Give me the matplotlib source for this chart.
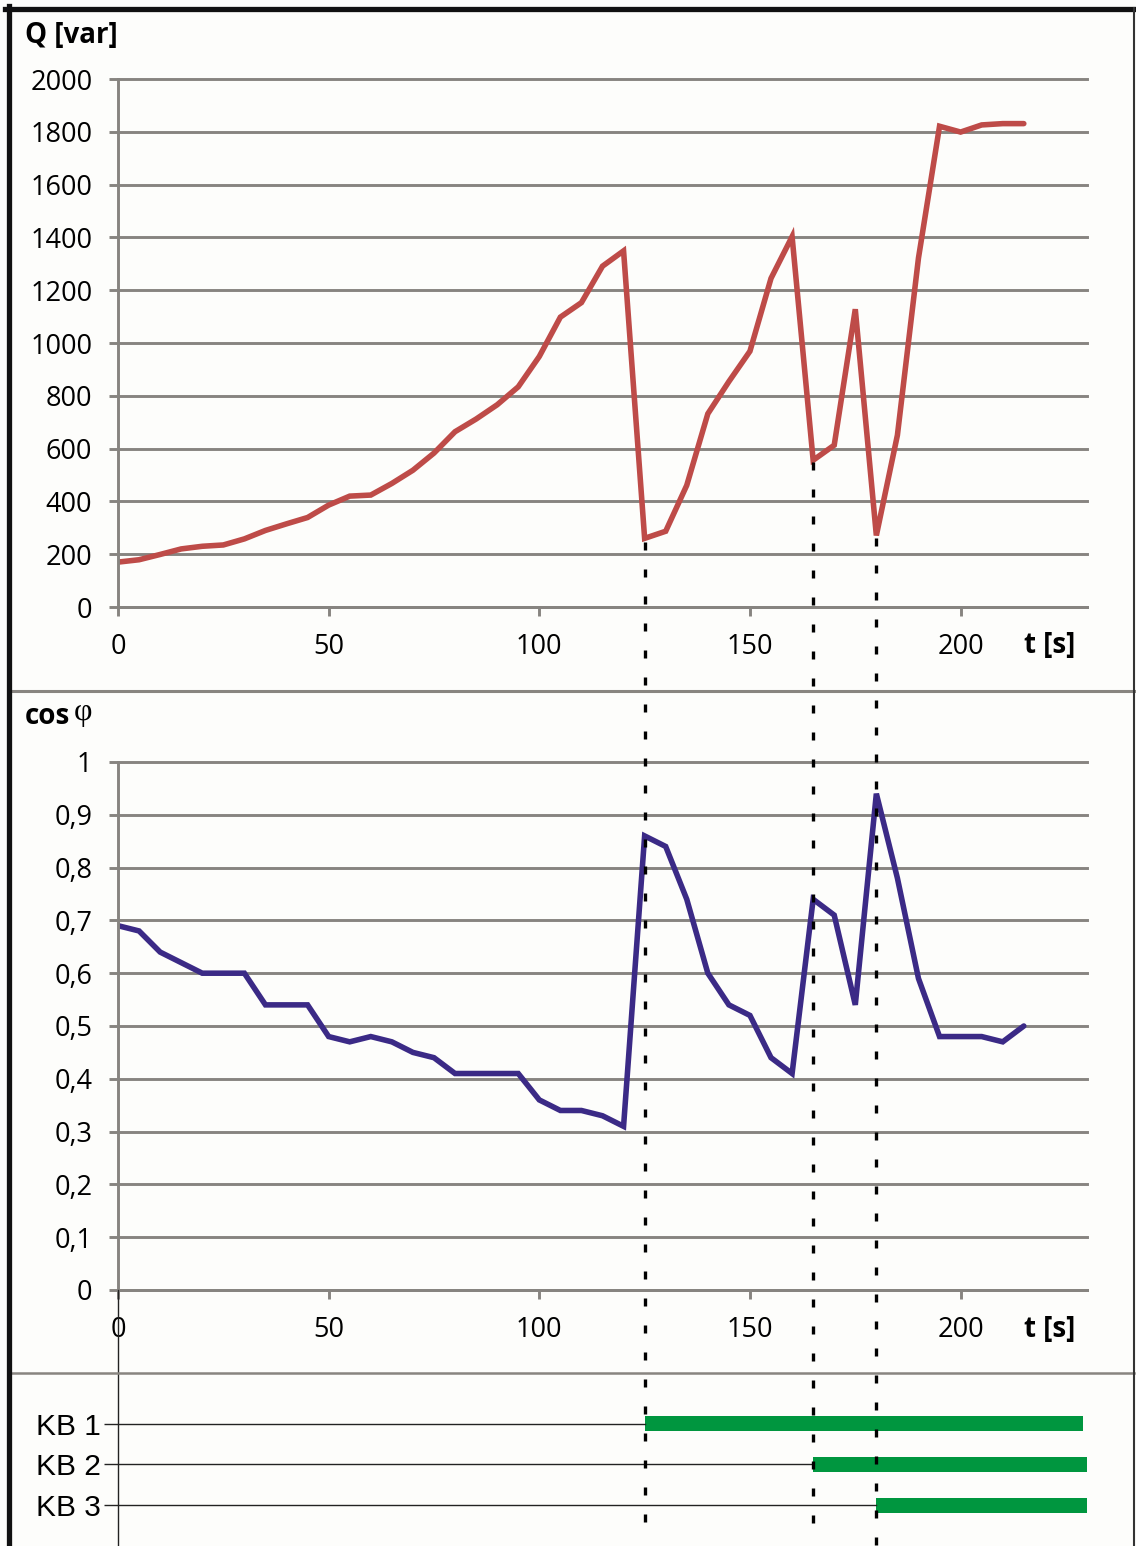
import matplotlib.pyplot as plt
from matplotlib.lines import Line2D
from matplotlib.transforms import blended_transform_factory

# time axis, 5 s steps
t = [0, 5, 10, 15, 20, 25, 30, 35, 40, 45, 50, 55, 60, 65, 70, 75, 80, 85, 90, 95,
     100, 105, 110, 115, 120, 125, 130, 135, 140, 145, 150, 155, 160, 165, 170, 175,
     180, 185, 190, 195, 200, 205, 210, 215]

q = [170, 179, 199, 220, 230, 235, 258, 290, 315, 339, 386, 420, 424, 468, 518, 583,
     664, 712, 766, 834, 949, 1098, 1153, 1291, 1349, 260, 287, 461, 732, 854, 969,
     1245, 1403, 556, 613, 1128, 271, 651, 1322, 1821, 1799, 1826, 1831, 1831]

cosphi = [0.69, 0.68, 0.64, 0.62, 0.60, 0.60, 0.60, 0.54, 0.54, 0.54, 0.48, 0.47,
          0.48, 0.47, 0.45, 0.44, 0.41, 0.41, 0.41, 0.41, 0.36, 0.34, 0.34, 0.33,
          0.31, 0.86, 0.84, 0.74, 0.60, 0.54, 0.52, 0.44, 0.41, 0.74, 0.71, 0.54,
          0.94, 0.78, 0.59, 0.48, 0.48, 0.48, 0.47, 0.50]

x_ticks = [0, 50, 100, 150, 200]
q_ticks = [0, 200, 400, 600, 800, 1000, 1200, 1400, 1600, 1800, 2000]
c_ticks = [0, 0.1, 0.2, 0.3, 0.4, 0.5, 0.6, 0.7, 0.8, 0.9, 1]
c_labels = ['0', '0,1', '0,2', '0,3', '0,4', '0,5', '0,6', '0,7', '0,8', '0,9', '1']

kb_names = ['KB 1', 'KB 2', 'KB 3']
kb_on = [125, 165, 180]
kb_off = [229, 230.5, 230.5]

W, H = 1136, 1546
fig = plt.figure(figsize=(W / 100, H / 100), dpi=100)
fig.patch.set_facecolor('#fdfdfb')

GRID = '#878480'
TICKFAM = ['Open Sans', 'DejaVu Sans']


def px_rect(l, top, r, b):
    return [l / W, 1 - b / H, (r - l) / W, (b - top) / H]


def chart(rect, ticks, labels=None):
    ax = fig.add_axes(rect)
    ax.set_facecolor('none')
    ax.set_xlim(0, 230)
    ax.set_xticks(x_ticks)
    ax.set_yticks(ticks)
    if labels is not None:
        ax.set_yticklabels(labels)
    ax.set_ylim(ticks[0], ticks[-1])
    for s in ['top', 'right']:
        ax.spines[s].set_visible(False)
    for s in ['left', 'bottom']:
        ax.spines[s].set_color(GRID)
        ax.spines[s].set_linewidth(2.1)
    ax.yaxis.grid(True, color=GRID, lw=2.1)
    for gl in ax.get_ygridlines():
        gl.set_clip_on(False)
    ax.tick_params(axis='y', length=6.5, width=2.1, color=GRID, pad=12)
    ax.tick_params(axis='x', length=6.5, width=2.1, color=GRID, pad=12)
    for lab in ax.get_xticklabels() + ax.get_yticklabels():
        lab.set_fontfamily(TICKFAM)
        lab.set_fontsize(19.5)
    ax.set_axisbelow(True)
    return ax


# Q chart
ax1 = chart(px_rect(118, 79, 1087, 607), q_ticks)
ax1.plot(t, q, color='#be4b48', lw=4.0, solid_joinstyle='miter', solid_capstyle='round')

# cos phi chart
ax2 = chart(px_rect(118, 762, 1087, 1290), c_ticks, c_labels)
ax2.plot(t, cosphi, color='#3b2a86', lw=4.0, solid_joinstyle='miter', solid_capstyle='round')

# capacitor bank switching panel
ax3 = fig.add_axes(px_rect(118, 1290, 1087, 1546))
ax3.set_facecolor('none')
ax3.set_xlim(0, 230)
ax3.set_ylim(4.0, -2.28)
for s in ['top', 'right', 'bottom']:
    ax3.spines[s].set_visible(False)
ax3.spines['left'].set_color('#222222')
ax3.spines['left'].set_linewidth(1.0)
ax3.set_xticks([])
rows = [1, 2, 3]
ax3.set_yticks(rows)
ax3.set_yticklabels(kb_names, fontfamily=['Liberation Sans', 'DejaVu Sans'], fontsize=21.5)
ax3.tick_params(axis='y', length=10, width=1, color='#222222', pad=2)
for r, a in zip(rows, kb_on):
    ax3.plot([0, a], [r, r], color='#222222', lw=1)
ax3.barh(rows, [b - a for a, b in zip(kb_on, kb_off)], left=kb_on, height=0.37,
         color='#00963f')

# titles
bold = dict(family=['Open Sans', 'DejaVu Sans'], weight='bold', fontsize=20)
fig.text(25 / W, 1 - 35 / H, 'Q [var]', ha='left', va='center', **bold)
fig.text(25 / W, 1 - 717 / H, 'cos', ha='left', va='center', **bold)
fig.text(74 / W, 1 - 713 / H, 'φ', ha='left', va='center',
         family=['Liberation Serif', 'DejaVu Serif'], fontsize=23)
fig.text(1050 / W, 1 - 645 / H, 't [s]', ha='center', va='center', **bold)
fig.text(1050 / W, 1 - 1330 / H, 't [s]', ha='center', va='center', **bold)

# dashed switching markers across panels
tr = blended_transform_factory(ax1.transData, fig.transFigure)
dash_top = [542, 462, 538]
dash_bot = [1530, 1530, 1546]
for x0, y0, y1 in zip(kb_on, dash_top, dash_bot):
    fig.add_artist(Line2D([x0, x0], [1 - y0 / H, 1 - y1 / H], transform=tr,
                          color='black', lw=2.4, linestyle=(0, (2.4, 5.7))))

# frame and separators
def fline(x, y, **kw):
    fig.add_artist(Line2D([v / W for v in x], [1 - v / H for v in y],
                          transform=fig.transFigure, **kw))

fline([9, 1134], [691, 691], color='#888580', lw=2.2)
fline([9, 1134], [1373, 1373], color='#888580', lw=1.8)
fline([5, 1136], [8.5, 8.5], color='#111111', lw=3.8)
fline([9, 9], [6, 1546], color='#111111', lw=3.8)
fline([1134, 1134], [8, 1546], color='#333333', lw=1.5)

fig.savefig('out.png', dpi=100, facecolor=fig.get_facecolor())
